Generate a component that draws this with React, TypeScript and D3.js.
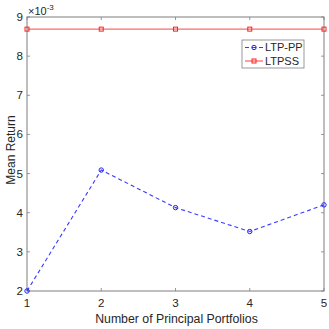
import { useEffect, useRef } from 'react'
import * as d3 from 'd3'

const xValues = [1, 2, 3, 4, 5]
const ltpPP = [2.0, 5.09, 4.13, 3.52, 4.2]
const ltpss = [8.69, 8.69, 8.69, 8.69, 8.69]
const yTicks = [2, 3, 4, 5, 6, 7, 8, 9]

export default function App() {
  const svgRef = useRef<SVGSVGElement>(null)

  useEffect(() => {
    if (!svgRef.current) return
    const svg = d3.select(svgRef.current)
    svg.selectAll('*').remove()

    const W = 329
    const H = 329
    const m = { top: 17, right: 5, bottom: 38, left: 27 }
    const w = W - m.left - m.right
    const h = H - m.top - m.bottom
    const font = 'Liberation Sans, Arial, sans-serif'
    const axisCol = '#7f7f7f'

    const g = svg.append('g').attr('transform', `translate(${m.left},${m.top})`)

    const x = d3.scaleLinear().domain([1, 5]).range([0, w])
    const y = d3.scaleLinear().domain([2, 9]).range([h, 0])

    g.append('rect').attr('width', w).attr('height', h).attr('fill', '#fff')

    const tickLen = 3
    // x ticks bottom & top
    xValues.forEach((v) => {
      g.append('line').attr('x1', x(v)).attr('x2', x(v)).attr('y1', h).attr('y2', h - tickLen)
        .attr('stroke', axisCol).attr('stroke-width', 0.8)
      g.append('line').attr('x1', x(v)).attr('x2', x(v)).attr('y1', 0).attr('y2', tickLen)
        .attr('stroke', axisCol).attr('stroke-width', 0.8)
      g.append('text').attr('x', x(v)).attr('y', h + 15.5).attr('text-anchor', 'middle')
        .attr('font-family', font).attr('font-size', 11.6).attr('fill', '#262626').text(v)
    })
    yTicks.forEach((v) => {
      g.append('line').attr('x1', 0).attr('x2', tickLen).attr('y1', y(v)).attr('y2', y(v))
        .attr('stroke', axisCol).attr('stroke-width', 0.8)
      g.append('line').attr('x1', w).attr('x2', w - tickLen).attr('y1', y(v)).attr('y2', y(v))
        .attr('stroke', axisCol).attr('stroke-width', 0.8)
      g.append('text').attr('x', -4).attr('y', y(v)).attr('dy', '0.35em').attr('text-anchor', 'end')
        .attr('font-family', font).attr('font-size', 11.6).attr('fill', '#262626').text(v)
    })

    // box
    g.append('rect').attr('width', w).attr('height', h).attr('fill', 'none')
      .attr('stroke', axisCol).attr('stroke-width', 1)

    // exponent label
    const ex = g.append('text').attr('x', 1).attr('y', -2)
      .attr('font-family', font).attr('font-size', 11).attr('fill', '#262626')
    ex.append('tspan').text('×10')
    ex.append('tspan').attr('dy', -5).attr('font-size', 8).text('-3')

    const line = d3.line<number>().x((_, i) => x(xValues[i])).y((d) => y(d))

    // LTPSS
    g.append('path').datum(ltpss).attr('d', line).attr('fill', 'none')
      .attr('stroke', '#ff6a6a').attr('stroke-width', 1.3)
    g.selectAll('rect.sq').data(ltpss).join('rect').attr('class', 'sq')
      .attr('x', (_, i) => x(xValues[i]) - 2).attr('y', (d) => y(d) - 2)
      .attr('width', 4).attr('height', 4).attr('fill', 'none')
      .attr('stroke', '#ff2020').attr('stroke-width', 1)

    // LTP-PP
    g.append('path').datum(ltpPP).attr('d', line).attr('fill', 'none')
      .attr('stroke', '#3a3aff').attr('stroke-width', 1.1).attr('stroke-dasharray', '4,3')
    g.selectAll('circle.pt').data(ltpPP).join('circle').attr('class', 'pt')
      .attr('cx', (_, i) => x(xValues[i])).attr('cy', (d) => y(d)).attr('r', 2.2)
      .attr('fill', 'none').attr('stroke', '#2020ff').attr('stroke-width', 1)

    // legend
    const lg = g.append('g').attr('transform', `translate(${242 - m.left},${40 - m.top})`)
    lg.append('rect').attr('width', 62).attr('height', 28).attr('fill', '#fff')
      .attr('stroke', axisCol).attr('stroke-width', 0.8)
    lg.append('line').attr('x1', 3).attr('x2', 21).attr('y1', 7.5).attr('y2', 7.5)
      .attr('stroke', '#3a3aff').attr('stroke-width', 1.1).attr('stroke-dasharray', '4,3')
    lg.append('circle').attr('cx', 12).attr('cy', 7.5).attr('r', 2.2).attr('fill', 'none')
      .attr('stroke', '#2020ff')
    lg.append('text').attr('x', 23).attr('y', 7.5).attr('dy', '0.35em')
      .attr('font-family', font).attr('font-size', 11).attr('fill', '#262626').text('LTP-PP')
    lg.append('line').attr('x1', 3).attr('x2', 21).attr('y1', 21).attr('y2', 21)
      .attr('stroke', '#ff6a6a').attr('stroke-width', 1.3)
    lg.append('rect').attr('x', 10).attr('y', 19).attr('width', 4).attr('height', 4)
      .attr('fill', 'none').attr('stroke', '#ff2020')
    lg.append('text').attr('x', 23).attr('y', 21).attr('dy', '0.35em')
      .attr('font-family', font).attr('font-size', 11).attr('fill', '#262626').text('LTPSS')

    // axis labels
    g.append('text').attr('x', w / 2 + 1).attr('y', h + 32).attr('text-anchor', 'middle')
      .attr('font-family', font).attr('font-size', 12.3).attr('fill', '#262626')
      .text('Number of Principal Portfolios')
    g.append('text').attr('transform', 'rotate(-90)').attr('x', -h / 2 + 4).attr('y', -12)
      .attr('text-anchor', 'middle')
      .attr('font-family', font).attr('font-size', 12).attr('fill', '#262626')
      .text('Mean Return')
  }, [])

  return (
    <svg ref={svgRef} width={329} height={329}
      style={{ position: 'absolute', left: 0, top: 0, background: '#fff' }} />
  )
}
